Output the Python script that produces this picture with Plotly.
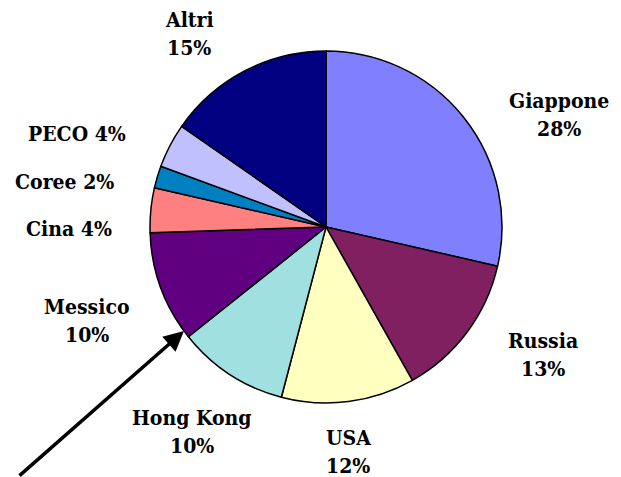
import plotly.graph_objects as go

# Share by destination market (percent), clockwise from 12 o'clock
paesi = ["Giappone", "Russia", "USA", "Hong Kong", "Messico", "Cina", "Coree", "PECO", "Altri"]
quote = [28, 13, 12, 10, 10, 4, 2, 4, 15]
colori = ["#8080FF", "#802060", "#FFFFC0", "#A0E0E0", "#600080",
          "#FF8080", "#0080C0", "#C0C0FF", "#000080"]

W, H = 621, 477
FONT = dict(family="DejaVu Serif Condensed, DejaVu Serif", size=21, color="black")

fig = go.Figure(go.Pie(
    labels=paesi,
    values=quote,
    sort=False,
    direction="clockwise",
    rotation=0,
    marker=dict(colors=colori, line=dict(color="black", width=1.5)),
    textinfo="none",
    hoverinfo="label+percent",
    showlegend=False,
    domain=dict(x=[(326 - 176) / W, (326 + 176) / W],
                y=[1 - 403 / H, 1 - 51 / H]),
))

# Outside labels: lines of text with pixel centres (x, y of first line)
etichette = [
    (["Altri", "15%"], 189, 20),
    (["Giappone", "28%"], 559, 100),
    (["PECO 4%"], 77, 133),
    (["Coree 2%"], 64, 181),
    (["Cina 4%"], 69, 228),
    (["Messico", "10%"], 87, 306),
    (["Russia", "13%"], 543, 340),
    (["Hong Kong", "10%"], 192, 417),
    (["USA", "12%"], 348, 437),
]
INTERLINEA = 28
for righe, x, y in etichette:
    for i, riga in enumerate(righe):
        fig.add_annotation(text="<b>" + riga + "</b>", x=x / W,
                           y=1 - (y + i * INTERLINEA) / H,
                           xref="paper", yref="paper", showarrow=False,
                           xanchor="center", yanchor="middle", align="center",
                           font=FONT)

# Pointer arrow toward the Messico slice (tail offset in pixels)
fig.add_annotation(x=184 / W, y=1 - 331 / H, ax=18 - 184, ay=482 - 331,
                   xref="paper", yref="paper", axref="pixel", ayref="pixel",
                   text="", showarrow=True, arrowhead=2, arrowsize=1.15,
                   arrowwidth=3.5, arrowcolor="black")

fig.update_layout(width=W, height=H, margin=dict(l=0, r=0, t=0, b=0),
                  paper_bgcolor="white", plot_bgcolor="white")

fig.write_html("out.html")
